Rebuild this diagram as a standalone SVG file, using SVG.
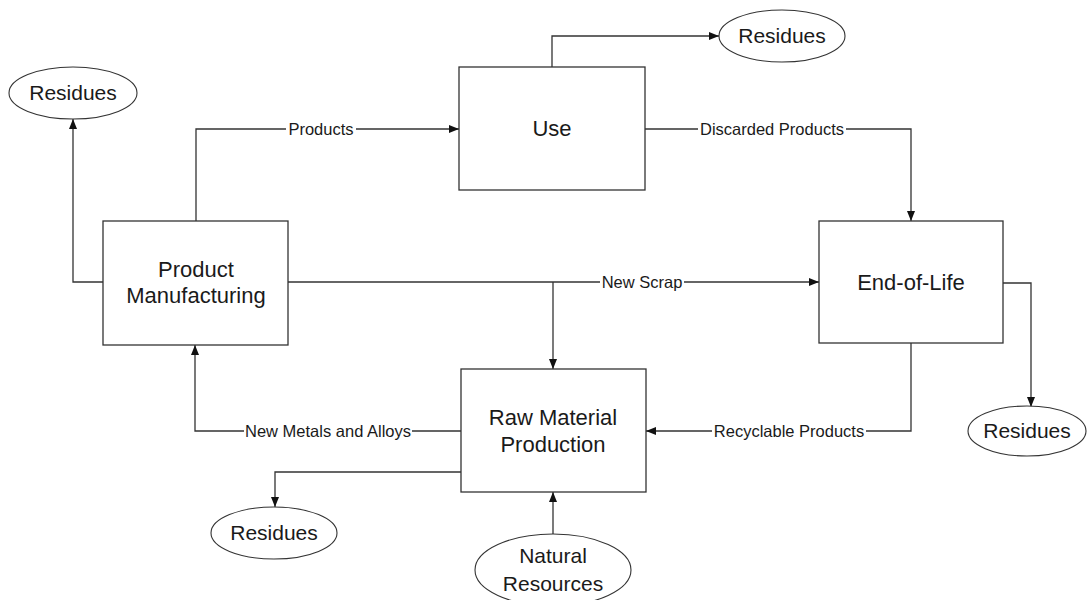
<svg xmlns="http://www.w3.org/2000/svg" width="1088" height="600" viewBox="0 0 1088 600">
  <style>
    .box { fill: #ffffff; stroke: #333333; stroke-width: 1.3; }
    .oval { fill: #ffffff; stroke: #333333; stroke-width: 1.1; }
    .arrow { fill: none; stroke: #333333; stroke-width: 1.3; marker-end: url(#head); }
    .name { font-family: "Liberation Sans", Arial, sans-serif; font-size: 22px; fill: #1a1a1a; text-anchor: middle; }
    .oname { font-family: "Liberation Sans", Arial, sans-serif; font-size: 21px; fill: #1a1a1a; text-anchor: middle; }
    .tag { font-family: "Liberation Sans", Arial, sans-serif; font-size: 16.5px; fill: #1a1a1a; text-anchor: middle; }
    .tagbg { fill: #ffffff; }
  </style>
  <defs>
    <marker id="head" viewBox="0 0 10 8" refX="10" refY="4" markerWidth="10" markerHeight="8" markerUnits="userSpaceOnUse" orient="auto">
      <path d="M0,0 L10,4 L0,8 Z" fill="#111111"/>
    </marker>
  </defs>

  <rect width="1088" height="600" fill="#ffffff"/>

  <!-- flows between stages -->
  <g id="connectors">
    <!-- Product Manufacturing -> Residues (left) -->
    <path class="arrow" d="M103,282 H73 V119"/>
    <!-- Product Manufacturing -> Use -->
    <path class="arrow" d="M196,221 V129 H459"/>
    <!-- Use -> Residues (top) -->
    <path class="arrow" d="M552,67 V36 H719"/>
    <!-- Use -> End-of-Life -->
    <path class="arrow" d="M645,129 H911 V221"/>
    <!-- Product Manufacturing -> End-of-Life (new scrap) -->
    <path class="arrow" d="M288,282 H819"/>
    <!-- new scrap branch -> Raw Material Production -->
    <path class="arrow" d="M553,282 V369"/>
    <!-- End-of-Life -> Residues (right) -->
    <path class="arrow" d="M1003,283 H1031 V407"/>
    <!-- End-of-Life -> Raw Material Production -->
    <path class="arrow" d="M911,343 V431 H646"/>
    <!-- Raw Material Production -> Product Manufacturing -->
    <path class="arrow" d="M461,431 H195 V345"/>
    <!-- Raw Material Production -> Residues (bottom) -->
    <path class="arrow" d="M461,472 H275 V507"/>
    <!-- Natural Resources -> Raw Material Production -->
    <path class="arrow" d="M553,534 V492"/>

    <!-- flow labels on white backing -->
    <rect class="tagbg" x="286" y="121" width="70" height="17"/>
    <text class="tag" x="321" y="135">Products</text>
    <rect class="tagbg" x="698" y="121" width="148" height="17"/>
    <text class="tag" x="772" y="135">Discarded Products</text>
    <rect class="tagbg" x="600" y="274" width="84" height="17"/>
    <text class="tag" x="642" y="288">New Scrap</text>
    <rect class="tagbg" x="244" y="423" width="168" height="17"/>
    <text class="tag" x="328" y="437">New Metals and Alloys</text>
    <rect class="tagbg" x="712" y="423" width="154" height="17"/>
    <text class="tag" x="789" y="437">Recyclable Products</text>
  </g>

  <g id="product-manufacturing">
    <rect class="box" x="103" y="221" width="185" height="124"/>
    <text class="name" x="196" y="277">Product</text>
    <text class="name" x="196" y="303">Manufacturing</text>
  </g>

  <g id="use">
    <rect class="box" x="459" y="67" width="186" height="123"/>
    <text class="name" x="552" y="136">Use</text>
  </g>

  <g id="end-of-life">
    <rect class="box" x="819" y="221" width="184" height="122"/>
    <text class="name" x="911" y="290">End-of-Life</text>
  </g>

  <g id="raw-material-production">
    <rect class="box" x="461" y="369" width="185" height="123"/>
    <text class="name" x="553" y="425">Raw Material</text>
    <text class="name" x="553" y="452">Production</text>
  </g>

  <g id="residues-manufacturing">
    <ellipse class="oval" cx="73" cy="93" rx="64" ry="26"/>
    <text class="oname" x="73" y="100">Residues</text>
  </g>

  <g id="residues-use">
    <ellipse class="oval" cx="782" cy="36" rx="63" ry="26"/>
    <text class="oname" x="782" y="43">Residues</text>
  </g>

  <g id="residues-end-of-life">
    <ellipse class="oval" cx="1027" cy="431" rx="59" ry="25"/>
    <text class="oname" x="1027" y="438">Residues</text>
  </g>

  <g id="residues-raw-material">
    <ellipse class="oval" cx="274" cy="533" rx="63" ry="26"/>
    <text class="oname" x="274" y="540">Residues</text>
  </g>

  <g id="natural-resources">
    <ellipse class="oval" cx="553" cy="570" rx="78" ry="36"/>
    <text class="oname" x="553" y="563">Natural</text>
    <text class="oname" x="553" y="591">Resources</text>
  </g>
</svg>
